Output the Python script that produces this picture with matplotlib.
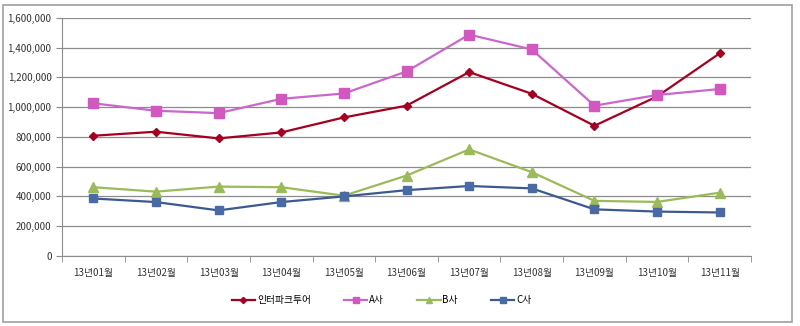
import matplotlib.pyplot as plt
from matplotlib.patches import Rectangle
from matplotlib.ticker import FuncFormatter, MultipleLocator

plt.rcParams['font.family'] = ['Noto Sans CJK KR', 'DejaVu Sans']

months = ['13년01월', '13년02월', '13년03월', '13년04월', '13년05월', '13년06월',
          '13년07월', '13년08월', '13년09월', '13년10월', '13년11월']
interpark = [808000, 835000, 790000, 830000, 931000, 1010000, 1236000, 1090000, 875000, 1072000, 1362000]
company_a = [1026000, 976000, 960000, 1056000, 1092000, 1240000, 1488000, 1388000, 1010000, 1082000, 1122000]
company_b = [462000, 432000, 466000, 462000, 405000, 540000, 716000, 563000, 370000, 363000, 425000]
company_c = [386000, 362000, 306000, 362000, 400000, 442000, 470000, 454000, 313000, 298000, 292000]

series = [
    ('인터파크투어', interpark, '#A50021', 'D', 4.5, '#A50021'),
    ('A사', company_a, '#CC66CC', 's', 7, '#D257BF'),
    ('B사', company_b, '#9BBB59', '^', 6.5, '#9BBB59'),
    ('C사', company_c, '#3C5A8F', 's', 6, '#4A6AA5'),
]

fig = plt.figure(figsize=(8, 3.26), dpi=100)
ax = fig.add_axes([0.0775, 0.215, 0.8613, 0.73])

x = list(range(len(months)))
for name, vals, col, mk, ms, mcol in series:
    ax.plot(x, vals, color=col, linewidth=1.6, marker=mk, markersize=ms,
            markerfacecolor=mcol, markeredgecolor=mcol, label=name)

ax.set_xlim(-0.5, len(months) - 0.5)
ax.set_ylim(0, 1600000)
ax.yaxis.set_major_locator(MultipleLocator(200000))
ax.yaxis.set_major_formatter(FuncFormatter(lambda v, p: f'{int(v):,}'))
ax.grid(axis='y', color='#8C8C8C', linewidth=0.9)
ax.set_axisbelow(True)

# category labels centred, tick marks between categories
ax.set_xticks(x)
ax.set_xticklabels(months)
ax.tick_params(axis='x', which='major', length=0, pad=9, labelsize=7, colors='#333333')
ax.set_xticks([i - 0.5 for i in range(len(months) + 1)], minor=True)
ax.tick_params(axis='x', which='minor', length=4, color='#8C8C8C', direction='out')
ax.tick_params(axis='y', length=4, color='#8C8C8C', labelsize=7, colors='#333333')

for s in ['top', 'right']:
    ax.spines[s].set_visible(False)
for s in ['left', 'bottom']:
    ax.spines[s].set_color('#8C8C8C')

fig.legend(loc='center', bbox_to_anchor=(0.477, 0.08), ncol=4, frameon=False,
           fontsize=7, handlelength=2.4, columnspacing=3.4, handletextpad=0.2,
           markerscale=0.7)

# outer chart frame
fig.patches.append(Rectangle((0.004, 0.012), 0.986, 0.973, transform=fig.transFigure,
                             fill=False, edgecolor='#A0A0A0', linewidth=1.2))

fig.savefig('out.png', dpi=100)
